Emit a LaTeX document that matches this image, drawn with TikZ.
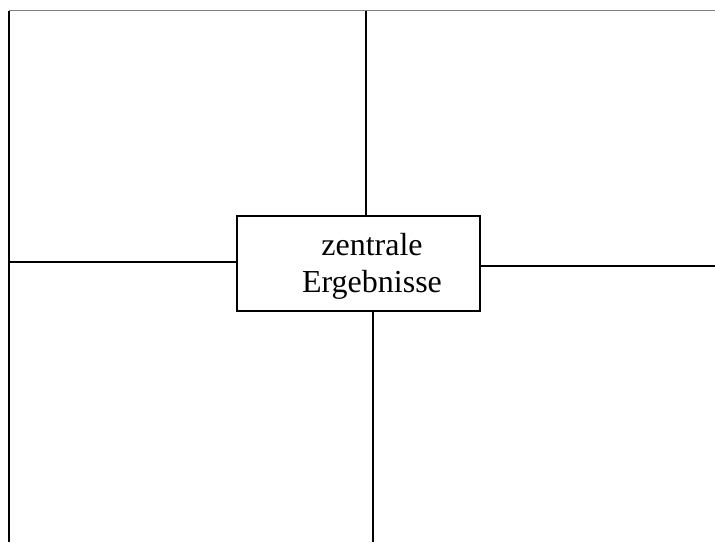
\documentclass[tikz,border=0pt]{standalone}
\usepackage{fontspec}
\setmainfont{Liberation Serif}
\begin{document}
\begin{tikzpicture}[x=1pt,y=-1pt,
  conn/.style={draw=black,line width=1.3pt},
  frame/.style={draw=black!50,line width=1.2pt},
  edge/.style={draw=black,line width=2pt},
  boxstyle/.style={draw=black,line width=1.3pt,minimum width=243pt,minimum height=95pt,inner sep=0pt,fill=white}]
\useasboundingbox[fill=white] (0,0) rectangle (715,542);
\coordinate (tl) at (9,10.5);
\coordinate (tr) at (715,10.5);
\coordinate (bl) at (9,542);
\draw[frame] (tl) -- (tr);
\draw[edge] (tl) -- (bl);
\node[boxstyle] (box) at (358.5,263.5) {};
\node[align=center,anchor=base,inner sep=0pt,font=\fontsize{32}{37}\selectfont] (txt) at (372,292) {zentrale\\Ergebnisse};
\coordinate (topend) at (366,10.5);
\coordinate (botend) at (373,542);
\coordinate (leftend) at (9,262);
\coordinate (rightend) at (715,266);
\draw[conn] (topend) -- (topend |- box.north);
\draw[conn] (botend |- box.south) -- (botend);
\draw[conn] (leftend) -- (leftend -| box.west);
\draw[conn] (rightend -| box.east) -- (rightend);
\end{tikzpicture}
\end{document}
